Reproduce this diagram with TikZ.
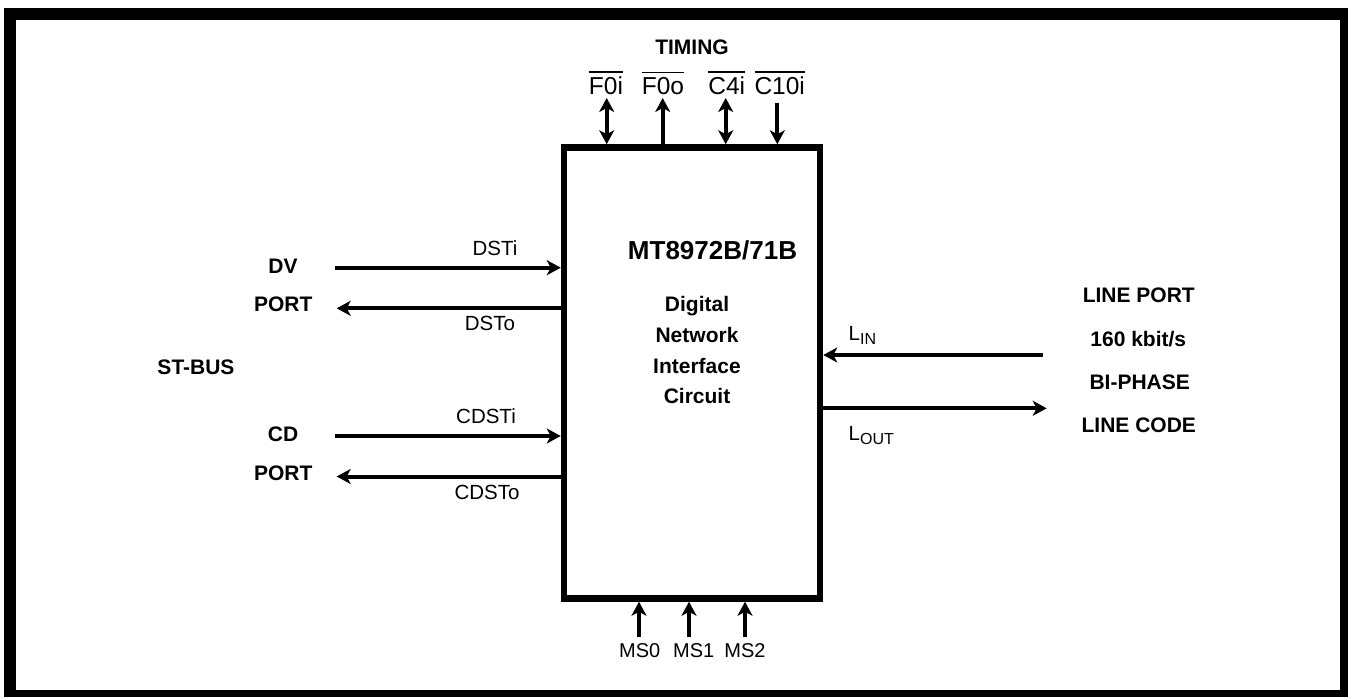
\documentclass[tikz,border=0pt]{standalone}
\usepackage{fontspec}
\setmainfont{Liberation Sans}
\usetikzlibrary{arrows.meta,positioning,calc}
\tikzset{chip/.style={draw, rectangle, line width=6.5pt, minimum width=256pt, minimum height=451pt, inner sep=0pt}}
\tikzstyle{bld}=[font=\bfseries\fontsize{21}{24}\selectfont, anchor=base, inner sep=0pt]
\tikzstyle{desc}=[bld, text height=15.5pt, text depth=4.5pt]
\tikzstyle{sig}=[font=\fontsize{20.5}{23}\selectfont, anchor=base, inner sep=0pt]
\tikzstyle{pin}=[font=\fontsize{24.5}{27}\selectfont, anchor=base, inner sep=0pt]
\tikzstyle{ms}=[font=\fontsize{20}{23}\selectfont, anchor=base, inner sep=0pt]
\newcommand{\lsub}[1]{L\raisebox{-4pt}{\fontsize{16}{18}\selectfont #1}}
\newcommand{\ovl}[1]{\vbox{\hrule height 1.6pt\kern 3.6pt\hbox{#1}}}

\begin{document}
\begin{tikzpicture}[x=1pt, y=-1pt, line width=4pt, >={Stealth[length=14pt, width=15pt, inset=4pt]}]
\useasboundingbox (0,0) rectangle (1348,696);
\draw[line width=12pt] (9.5,14) rectangle (1346,696);

% the chip
\node[chip] (ic) at (692,373) {};
\node[bld, font=\bfseries\fontsize{26}{30}\selectfont] (name) at (712.5,259.3) {MT8972B/71B};
\node[desc] (dig) at (697,311.7) {Digital};
\node[desc] (net) [below=6.7pt of dig] {Network};
\node[desc] (intf) [below=6.7pt of net] {Interface};
\node[desc] (circ) [below=6.7pt of intf] {Circuit};

% timing
\node[bld] (timing) at (692,54) {TIMING};
\node[pin] (f0ilbl) at (606,94) {\ovl{F0i}};
\node[pin] (f0olbl) at (663,94) {\ovl{F0o}};
\node[pin] (c4ilbl) at (726.7,94) {\ovl{C4i}};
\node[pin] (c10ilbl) at (779.7,94) {\ovl{C10i}};
\coordinate (f0i) at (606.7,98);
\coordinate (f0o) at (662.7,98);
\coordinate (c4i) at (725.7,98);
\coordinate (c10i) at (777.3,102.7);
\path[<->] (f0i) edge (f0i |- ic.north)
           (c4i) edge (c4i |- ic.north);
\path[->] (f0o |- ic.north) edge (f0o)
          (c10i) edge (c10i |- ic.north);

% mode select
\node[ms] (ms0lbl) at (639.7,657) {MS0};
\node[ms] (ms1lbl) at (693.7,657) {MS1};
\node[ms] (ms2lbl) at (745,657) {MS2};
\coordinate (ms0) at (639,636.7);
\coordinate (ms1) at (689,636.7);
\coordinate (ms2) at (745,636.7);
\path[->] (ms0) edge (ms0 |- ic.south)
          (ms1) edge (ms1 |- ic.south)
          (ms2) edge (ms2 |- ic.south);

% ST-BUS side
\node[bld] (stbus) at (196,374) {ST-BUS};
\node[bld] (dv) at (283,273) {DV};
\node[bld] (dvport) at (283.2,311.7) {PORT};
\node[bld] (cd) at (283,441) {CD};
\node[bld] (cdport) at (283.2,480) {PORT};
\node[sig] (dstilbl) at (495,255) {DSTi};
\node[sig] (dstolbl) at (490,330.7) {DSTo};
\node[sig] (cdstilbl) at (486,423.3) {CDSTi};
\node[sig] (cdstolbl) at (487,499) {CDSTo};
\coordinate (dsti) at (335,267.7);
\coordinate (dsto) at (336.7,308.3);
\coordinate (cdsti) at (335,436);
\coordinate (cdsto) at (336.7,476.5);
\path[->] (dsti) edge (dsti -| ic.west)
          (dsto -| ic.west) edge (dsto)
          (cdsti) edge (cdsti -| ic.west)
          (cdsto -| ic.west) edge (cdsto);

% line side
\node[bld] (lport) at (1138.8,302.3) {LINE PORT};
\node[bld] (rate) at (1138.3,346.7) {160 kbit/s};
\node[bld] (biph) at (1139.7,389) {BI-PHASE};
\node[bld] (lcode) at (1138.8,432.3) {LINE CODE};
\node[sig, anchor=base west] (linlbl) at (846.7,340) {\lsub{IN}};
\node[sig, anchor=base west] (loutlbl) at (846.7,440) {\lsub{OUT}};
\coordinate (lin) at (1043,355);
\coordinate (lout) at (1046.7,408.3);
\path[->] (lin) edge (lin -| ic.east)
          (lout -| ic.east) edge (lout);
\end{tikzpicture}
\end{document}
